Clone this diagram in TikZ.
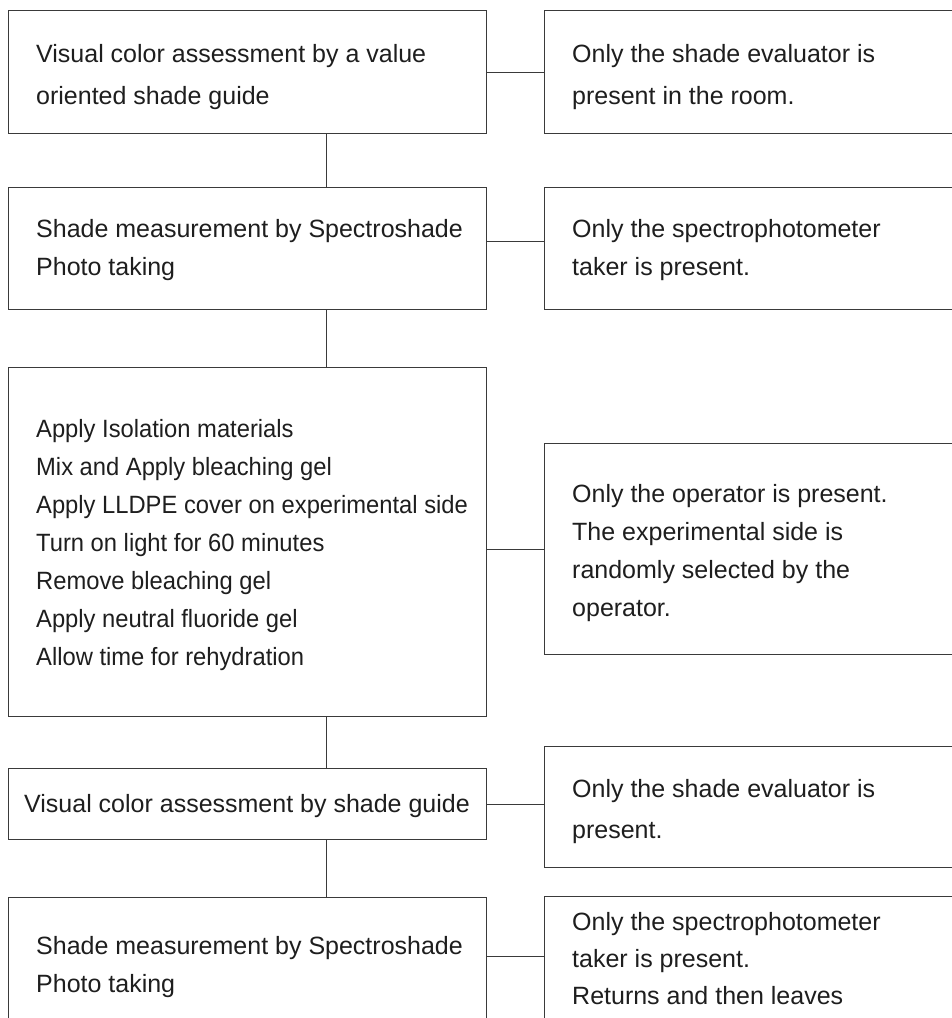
\documentclass[tikz,border=0pt]{standalone}
\usepackage{fontspec}
\setmainfont{Liberation Sans}
\newfontfamily\narrowfont[FakeStretch=0.95]{Liberation Sans}
\definecolor{boxline}{HTML}{3A3A3A}
\definecolor{txtcol}{HTML}{1E1E1E}
\tikzset{
  box/.style={draw=boxline, line width=1.1pt, rectangle, inner sep=0pt, anchor=north west},
  lbox/.style={box, minimum width=478pt},
  rbox/.style={box, minimum width=456pt},
  label text/.style={text=txtcol, inner sep=0pt, anchor=north west, align=left},
  conn/.style={draw=boxline, line width=1.1pt}
}
\newcommand{\fA}{\fontsize{25}{42}\selectfont}
\newcommand{\fB}{\fontsize{25}{38}\selectfont}
\newcommand{\fC}{\narrowfont\fontsize{25}{38}\selectfont}
\newcommand{\fD}{\fontsize{25}{41}\selectfont}
\newcommand{\fE}{\fontsize{25}{37}\selectfont}
\begin{document}
\begin{tikzpicture}[x=1pt,y=-1pt]
\clip (0,0) rectangle (952,1018);
\fill[white] (0,0) rectangle (952,1018);
% ---------- boxes, left column
\node[lbox, minimum height=123pt] (A) at (8,10) {};
\node[lbox, minimum height=122pt] (B) at (8,187) {};
\node[lbox, minimum height=349pt] (C) at (8,367) {};
\node[lbox, minimum height=71pt]  (D) at (8,768) {};
\node[lbox, minimum height=140pt] (E) at (8,897) {};
% ---------- boxes, right column
\node[rbox, minimum height=123pt] (Ap) at (544,10) {};
\node[rbox, minimum height=122pt] (Bp) at (544,187) {};
\node[rbox, minimum height=211pt] (Cp) at (544,443) {};
\node[rbox, minimum height=121pt] (Dp) at (544,746) {};
\node[rbox, minimum height=140pt] (Ep) at (544,896) {};
% ---------- texts (top = first baseline - 0.7 baselineskip)
\node[label text, font=\fA] (tA) at (36,32.6) {\strut Visual color assessment by a value\\oriented shade guide};
\node[label text, font=\fB] (tB) at (36,210.4) {\strut Shade measurement by Spectroshade\\Photo taking};
\node[label text, font=\fC] (tC) at (36,410.7) {\strut Apply Isolation materials\\Mix and Apply bleaching gel\\Apply LLDPE cover on experimental side\\Turn on light for 60 minutes\\Remove bleaching gel\\Apply neutral fluoride gel\\Allow time for rehydration};
\node[label text, font=\fB, anchor=base] (tD) at (247,812) {Visual color assessment by shade guide};
\node[label text, font=\fB] (tE) at (36,927.4) {\strut Shade measurement by Spectroshade\\Photo taking};
\node[label text, font=\fA] (tAp) at (572,32.6) {\strut Only the shade evaluator is\\present in the room.};
\node[label text, font=\fB] (tBp) at (572,210.4) {\strut Only the spectrophotometer\\taker is present.};
\node[label text, font=\fB] (tCp) at (572,475.4) {\strut Only the operator is present.\\The experimental side is\\randomly selected by the\\operator.};
\node[label text, font=\fD] (tDp) at (572,768.5) {\strut Only the shade evaluator is\\present.};
\node[label text, font=\fE] (tEp) at (572,904.1) {\strut Only the spectrophotometer\\taker is present.\\Returns and then leaves};
% ---------- vertical connectors
\draw[conn] ([xshift=79pt]A.south) -- ([xshift=79pt]B.north);
\draw[conn] ([xshift=79pt]B.south) -- ([xshift=79pt]C.north);
\draw[conn] ([xshift=79pt]C.south) -- ([xshift=79pt]D.north);
\draw[conn] ([xshift=79pt]D.south) -- ([xshift=79pt]E.north);
% ---------- horizontal connectors
\draw[conn] (A.east) -- (A.east -| Ap.west);
\draw[conn] ([yshift=7pt]B.east) -- ([yshift=7pt]B.east -| Bp.west);
\draw[conn] (Cp.west -| C.east) -- (Cp.west);
\draw[conn] (D.east) -- (D.east -| Dp.west);
\draw[conn] ([yshift=11pt]E.east) -- ([yshift=11pt]E.east -| Ep.west);
\end{tikzpicture}
\end{document}
